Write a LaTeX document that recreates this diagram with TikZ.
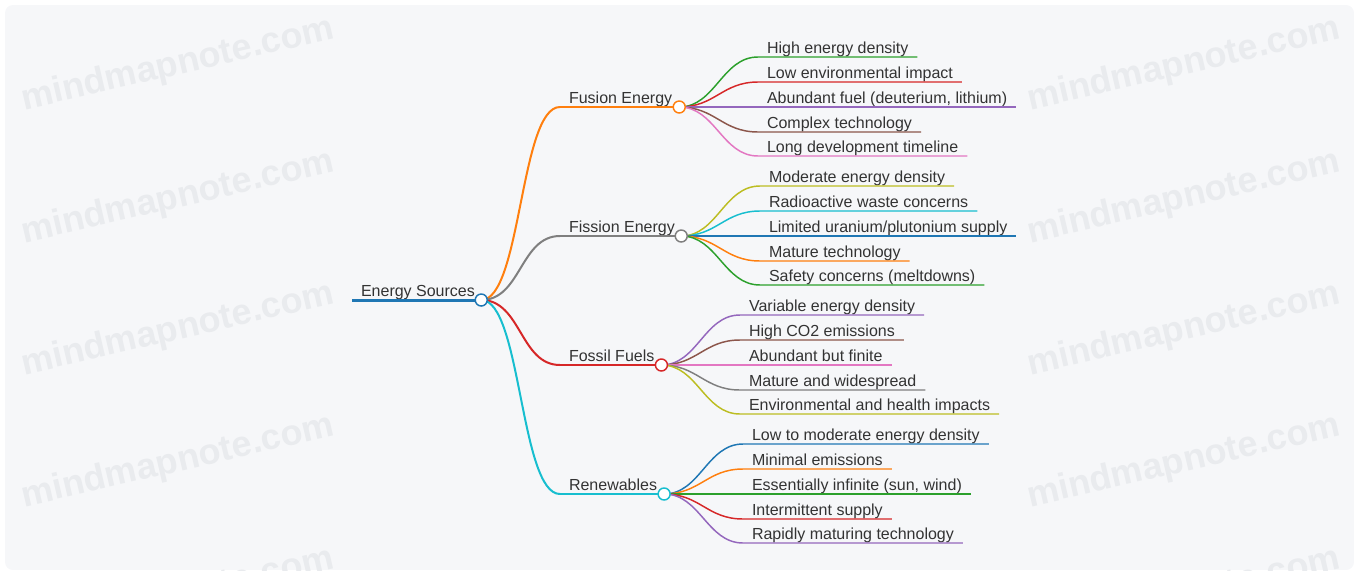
\documentclass[tikz,border=0pt]{standalone}
\usepackage{fontspec}
\setmainfont{Liberation Sans}
\definecolor{cblue}{HTML}{1F77B4}
\definecolor{corange}{HTML}{FF7F0E}
\definecolor{cgreen}{HTML}{2CA02C}
\definecolor{cred}{HTML}{D62728}
\definecolor{cpurple}{HTML}{9467BD}
\definecolor{cbrown}{HTML}{8C564B}
\definecolor{cpink}{HTML}{E377C2}
\definecolor{cgray}{HTML}{7F7F7F}
\definecolor{colive}{HTML}{BCBD22}
\definecolor{ccyan}{HTML}{17BECF}
\definecolor{textgray}{HTML}{333333}
\definecolor{paper}{HTML}{F6F7F9}
\definecolor{wmgray}{HTML}{E9EBEE}
\tikzset{every picture/.style={line width=0.75pt}}
\tikzset{
  topic/.style={anchor=south west, inner xsep=6.4pt, inner ysep=0pt, text depth=2.5pt, text=textgray, font=\fontsize{12}{14}\selectfont},
  joint/.style={circle, fill=white, minimum size=9pt, inner sep=0pt, line width=1.1pt},
  wmark/.style={rotate=13, text=wmgray, font=\fontsize{27}{30}\selectfont\bfseries},
  rootline/.style={line width=2.25pt},
  branchline/.style={line width=1.5pt},
  leafline/.style={line width=1.1pt},
}

\begin{document}
\begin{tikzpicture}[x=0.75pt,y=0.75pt,yscale=-1,xscale=1]
\useasboundingbox (0,0) rectangle (1359,575);

%Background with watermark
\begin{scope}
\clip [rounded corners=6pt] (5,5) rectangle (1354,570);
\fill [paper] (5,5) rectangle (1354,570);
\node [wmark] (wm1) at (178,65) {mindmapnote.com};
\node [wmark] (wm2) at (178,198) {mindmapnote.com};
\node [wmark] (wm3) at (178,330) {mindmapnote.com};
\node [wmark] (wm4) at (178,462) {mindmapnote.com};
\node [wmark] (wm5) at (178,595) {mindmapnote.com};
\node [wmark] (wm6) at (1184,65) {mindmapnote.com};
\node [wmark] (wm7) at (1184,198) {mindmapnote.com};
\node [wmark] (wm8) at (1184,330) {mindmapnote.com};
\node [wmark] (wm9) at (1184,462) {mindmapnote.com};
\node [wmark] (wm10) at (1184,595) {mindmapnote.com};
\end{scope}

% Root
\node [topic] (root) at (352,300) {Energy Sources};
\coordinate (rootdot) at ([xshift=-2pt]root.south east);
\draw [rootline, cblue] (root.south west) -- (rootdot);

% Branches
\node [topic] (fusion) at (560,107) {Fusion Energy};
\node [topic] (fission) at (560,236) {Fission Energy};
\node [topic] (fossil) at (560,365) {Fossil Fuels};
\node [topic] (renew) at (560,494) {Renewables};
\coordinate (fusiondot) at ([xshift=-1.5pt]fusion.south east);
\coordinate (fissiondot) at ([xshift=-2pt]fission.south east);
\coordinate (fossildot) at ([xshift=-1.5pt]fossil.south east);
\coordinate (renewdot) at ([xshift=-1.5pt]renew.south east);
\draw [branchline, corange] (fusion.south west) -- (fusiondot);
\draw [branchline, cgray] (fission.south west) -- (fissiondot);
\draw [branchline, cred] (fossil.south west) -- (fossildot);
\draw [branchline, ccyan] (renew.south west) -- (renewdot);
\draw [branchline, corange] (rootdot) .. controls +(40,0) and +(-40,0) .. (fusion.south west);
\draw [branchline, cgray] (rootdot) .. controls +(40,0) and +(-40,0) .. (fission.south west);
\draw [branchline, cred] (rootdot) .. controls +(40,0) and +(-40,0) .. (fossil.south west);
\draw [branchline, ccyan] (rootdot) .. controls +(40,0) and +(-40,0) .. (renew.south west);

% Fusion leaves
\node [topic] (fu1) at (758,57) {High energy density};
\node [topic] (fu2) at (758,82) {Low environmental impact};
\node [topic] (fu3) at (758,107) {Abundant fuel (deuterium, lithium)};
\node [topic] (fu4) at (758,132) {Complex technology};
\node [topic] (fu5) at (758,156) {Long development timeline};
\draw [leafline, cgreen] (fusiondot) .. controls +(36,0) and +(-36,0) .. (fu1.south west) -- (fu1.south east);
\draw [leafline, cred] (fusiondot) .. controls +(36,0) and +(-36,0) .. (fu2.south west) -- (fu2.south east);
\draw [leafline, cpurple] (fusiondot) .. controls +(36,0) and +(-36,0) .. (fu3.south west) -- (fu3.south east);
\draw [leafline, cbrown] (fusiondot) .. controls +(36,0) and +(-36,0) .. (fu4.south west) -- (fu4.south east);
\draw [leafline, cpink] (fusiondot) .. controls +(36,0) and +(-36,0) .. (fu5.south west) -- (fu5.south east);

% Fission leaves
\node [topic] (fi1) at (760,186) {Moderate energy density};
\node [topic] (fi2) at (760,211) {Radioactive waste concerns};
\node [topic] (fi3) at (760,236) {Limited uranium/plutonium supply};
\node [topic] (fi4) at (760,261) {Mature technology};
\node [topic] (fi5) at (760,285) {Safety concerns (meltdowns)};
\draw [leafline, colive] (fissiondot) .. controls +(36,0) and +(-36,0) .. (fi1.south west) -- (fi1.south east);
\draw [leafline, ccyan] (fissiondot) .. controls +(36,0) and +(-36,0) .. (fi2.south west) -- (fi2.south east);
\draw [leafline, cblue] (fissiondot) .. controls +(36,0) and +(-36,0) .. (fi3.south west) -- (fi3.south east);
\draw [leafline, corange] (fissiondot) .. controls +(36,0) and +(-36,0) .. (fi4.south west) -- (fi4.south east);
\draw [leafline, cgreen] (fissiondot) .. controls +(36,0) and +(-36,0) .. (fi5.south west) -- (fi5.south east);

% Fossil leaves
\node [topic] (fo1) at (740,315) {Variable energy density};
\node [topic] (fo2) at (740,340) {High CO2 emissions};
\node [topic] (fo3) at (740,365) {Abundant but finite};
\node [topic] (fo4) at (740,390) {Mature and widespread};
\node [topic] (fo5) at (740,414) {Environmental and health impacts};
\draw [leafline, cpurple] (fossildot) .. controls +(36,0) and +(-36,0) .. (fo1.south west) -- (fo1.south east);
\draw [leafline, cbrown] (fossildot) .. controls +(36,0) and +(-36,0) .. (fo2.south west) -- (fo2.south east);
\draw [leafline, cpink] (fossildot) .. controls +(36,0) and +(-36,0) .. (fo3.south west) -- (fo3.south east);
\draw [leafline, cgray] (fossildot) .. controls +(36,0) and +(-36,0) .. (fo4.south west) -- (fo4.south east);
\draw [leafline, colive] (fossildot) .. controls +(36,0) and +(-36,0) .. (fo5.south west) -- (fo5.south east);

% Renewables leaves
\node [topic] (re1) at (743,444) {Low to moderate energy density};
\node [topic] (re2) at (743,469) {Minimal emissions};
\node [topic] (re3) at (743,494) {Essentially infinite (sun, wind)};
\node [topic] (re4) at (743,519) {Intermittent supply};
\node [topic] (re5) at (743,543) {Rapidly maturing technology};
\draw [leafline, cblue] (renewdot) .. controls +(36,0) and +(-36,0) .. (re1.south west) -- (re1.south east);
\draw [leafline, corange] (renewdot) .. controls +(36,0) and +(-36,0) .. (re2.south west) -- (re2.south east);
\draw [leafline, cgreen] (renewdot) .. controls +(36,0) and +(-36,0) .. (re3.south west) -- (re3.south east);
\draw [leafline, cred] (renewdot) .. controls +(36,0) and +(-36,0) .. (re4.south west) -- (re4.south east);
\draw [leafline, cpurple] (renewdot) .. controls +(36,0) and +(-36,0) .. (re5.south west) -- (re5.south east);

% Joints on top
\node [joint, draw=cblue] (rootknob) at (rootdot) {};
\node [joint, draw=corange] (fusionknob) at (fusiondot) {};
\node [joint, draw=cgray] (fissionknob) at (fissiondot) {};
\node [joint, draw=cred] (fossilknob) at (fossildot) {};
\node [joint, draw=ccyan] (renewknob) at (renewdot) {};

\end{tikzpicture}
\end{document}
